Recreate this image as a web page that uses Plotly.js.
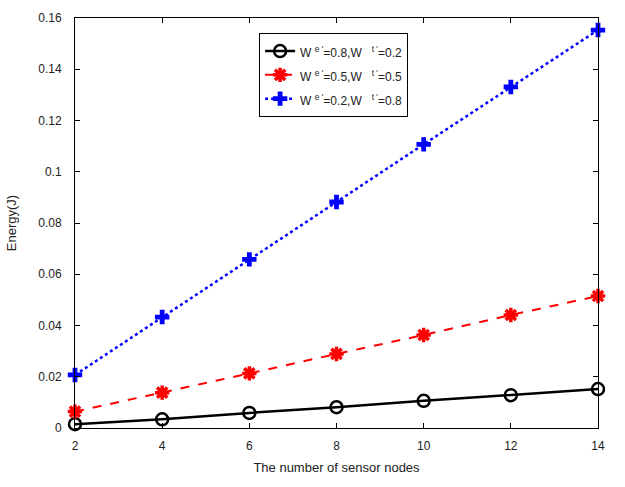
<!DOCTYPE html>
<html>
<head>
<meta charset="utf-8">
<script src="https://cdn.plot.ly/plotly-3.0.1.min.js"></script>
<style>html,body{margin:0;padding:0;background:#fff;}#chart{width:625px;height:487px;}</style>
</head>
<body>
<div id="chart"></div>
<script>
const nodes = [2, 4, 6, 8, 10, 12, 14];
const energyA = [0.0015, 0.0034, 0.0059, 0.0081, 0.0106, 0.0128, 0.0152];
const energyB = [0.0064, 0.0138, 0.0213, 0.0289, 0.0363, 0.0441, 0.0515];
const energyC = [0.0207, 0.0433, 0.0658, 0.0882, 0.1107, 0.1331, 0.1553];
const names = [
  "<span style='font-size:12px'>W <sup>e '</sup>=0.8,W   <sup>t '</sup>=0.2</span>",
  "<span style='font-size:12px'>W <sup>e '</sup>=0.5,W   <sup>t '</sup>=0.5</span>",
  "<span style='font-size:12px'>W <sup>e '</sup>=0.2,W   <sup>t '</sup>=0.8</span>"
];
const xTicks = [2, 4, 6, 8, 10, 12, 14];
const yTicks = [0, 0.02, 0.04, 0.06, 0.08, 0.1, 0.12, 0.14, 0.16];
const yTickText = ["0", "0.02", "0.04", "0.06", "0.08", "0.1", "0.12", "0.14", "0.16"];

const traces = [
  {x: nodes, y: energyA, name: names[0], mode: "lines+markers", cliponaxis: false,
   line: {color: "#000000", width: 2.5, dash: "solid"},
   marker: {symbol: "circle-open", size: 12, color: "#000000", line: {width: 2.5, color: "#000000"}}},
  {x: nodes, y: energyB, name: names[1], mode: "lines+markers", cliponaxis: false,
   line: {color: "#ff0000", width: 2, dash: "dash"},
   marker: {symbol: "asterisk-open", size: 12, color: "#ff0000", line: {width: 3.5, color: "#ff0000"}}},
  {x: nodes, y: energyC, name: names[2], mode: "lines+markers", cliponaxis: false,
   line: {color: "#0000ff", width: 2.5, dash: "dot"},
   marker: {symbol: "cross", size: 12, color: "#0000ff", line: {width: 0}}}
];

const layout = {
  width: 625, height: 487,
  margin: {l: 75, r: 27, t: 18, b: 59},
  paper_bgcolor: "#ffffff", plot_bgcolor: "#ffffff",
  font: {family: "Liberation Sans, Arial, sans-serif", size: 12, color: "#222"},
  showlegend: true,
  legend: {x: 0.352, y: 0.963, xanchor: "left", yanchor: "top",
    bgcolor: "#ffffff", bordercolor: "#000000", borderwidth: 1,
    font: {size: 16, color: "#222"}, tracegroupgap: 0},
  xaxis: {range: [2, 14], tickvals: xTicks, ticks: "inside", ticklen: 5, tickcolor: "#000",
    ticklabelstandoff: 7,
    showline: true, linecolor: "#000", linewidth: 1, mirror: "ticks", showgrid: false, zeroline: false,
    title: {text: "The number of sensor nodes", standoff: 10, font: {size: 13, color: "#222"}}},
  yaxis: {range: [0, 0.16], tickvals: yTicks, ticktext: yTickText, ticks: "inside", ticklen: 5, tickcolor: "#000",
    ticklabelstandoff: 10,
    showline: true, linecolor: "#000", linewidth: 1, mirror: "ticks", showgrid: false, zeroline: false,
    title: {text: "Energy(J)", standoff: 18, font: {size: 13, color: "#222"}}}
};

Plotly.newPlot("chart", traces, layout, {displayModeBar: false, staticPlot: true});
</script>
</body>
</html>
